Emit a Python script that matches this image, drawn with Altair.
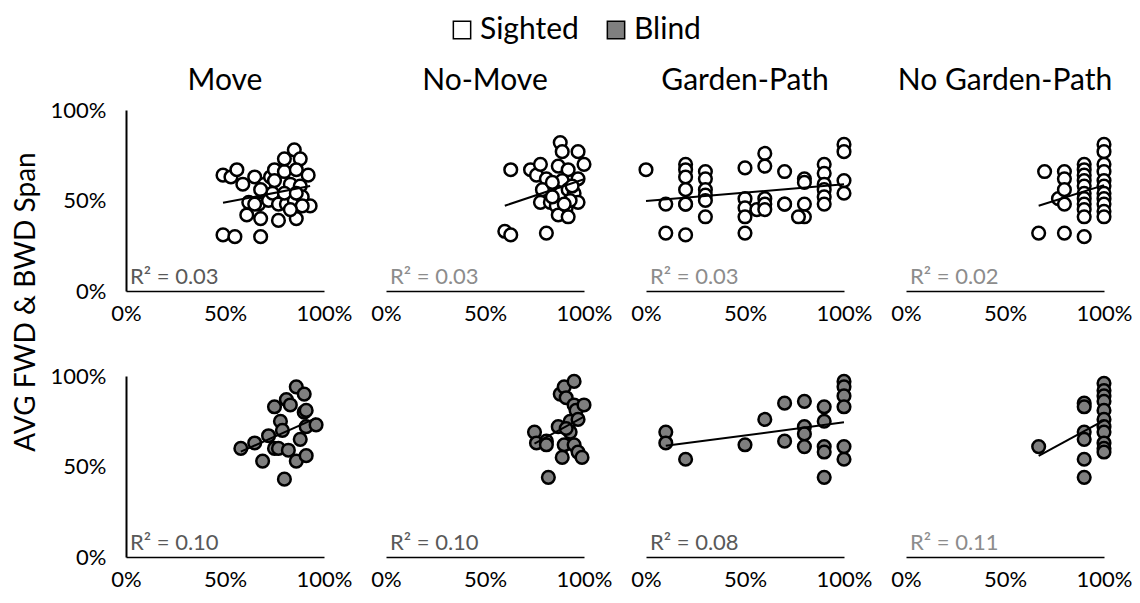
import altair as alt
import pandas as pd

conditions = ["Move", "No-Move", "Garden-Path", "No Garden-Path"]
groups = ["Sighted", "Blind"]

# Sighted (top row)
sighted_move_x = [49, 53, 56, 59, 65, 70, 73, 75, 80, 80, 85, 88, 86, 92, 83, 88, 75, 62, 67, 72, 74, 77, 81, 85, 89, 93, 61, 68, 77, 86, 89, 49, 55, 68, 65, 80, 86, 68, 83]
sighted_move_y = [64, 63, 67, 59, 63, 59, 63, 67, 66, 73, 78, 73, 67, 64, 59, 58, 61, 49, 48, 50, 54, 48, 48, 50, 52, 47, 42, 40, 39, 40, 47, 31, 30, 30, 48, 54, 54, 56, 45]

sighted_nomove_x = [63, 73, 76, 78, 81, 88, 89, 97, 100, 87, 92, 97, 89, 79, 78, 83, 88, 92, 95, 97, 86, 91, 87, 92, 93, 60, 63, 81, 84, 94, 90, 84]
sighted_nomove_y = [67, 67, 64, 70, 62, 82, 77, 77, 70, 69, 67, 62, 61, 56, 49, 49, 54, 56, 54, 49, 47, 46, 42, 41, 50, 33, 31, 32, 52, 58, 48, 60]

sighted_gp_x = [0, 10, 10, 20, 20, 20, 20, 20, 20, 20, 30, 30, 30, 30, 30, 30, 50, 50, 50, 50, 50, 56, 60, 60, 60, 60, 60, 70, 70, 70, 80, 80, 80, 80, 77, 90, 90, 90, 90, 90, 90, 100, 100, 100, 100]
sighted_gp_y = [67, 48, 32, 70, 67, 63, 56, 48, 48, 31, 66, 62, 56, 53, 50, 41, 68, 51, 46, 41, 32, 45, 76, 69, 51, 48, 45, 66, 48, 48, 62, 60, 48, 41, 41, 70, 65, 59, 56, 52, 48, 81, 77, 61, 54]

sighted_ngp_x = [67, 70, 77, 80, 80, 80, 80, 80, 90, 90, 90, 90, 90, 90, 90, 90, 90, 90, 90, 100, 100, 100, 100, 100, 100, 100, 100, 100, 100, 100]
sighted_ngp_y = [32, 66, 51, 66, 62, 56, 48, 32, 70, 67, 64, 61, 58, 54, 51, 48, 45, 41, 30, 81, 77, 70, 66, 61, 58, 54, 51, 48, 44, 41]

# Blind (bottom row)
blind_move_x = [58, 65, 72, 69, 75, 75, 77, 78, 79, 80, 81, 83, 82, 86, 90, 88, 86, 91, 90, 91, 91, 96]
blind_move_y = [60, 63, 67, 53, 83, 60, 60, 75, 70, 43, 87, 84, 59, 94, 90, 65, 53, 56, 80, 81, 72, 73]

blind_nomove_x = [75, 76, 81, 81, 82, 87, 88, 90, 91, 95, 95, 96, 100, 93, 97, 93, 90, 89, 95, 97, 99, 91]
blind_nomove_y = [69, 63, 64, 62, 44, 72, 90, 94, 88, 97, 84, 81, 84, 75, 76, 69, 62, 55, 62, 58, 55, 71]

blind_gp_x = [10, 10, 20, 50, 60, 70, 70, 80, 80, 80, 80, 90, 90, 90, 90, 90, 100, 100, 100, 100, 100, 100]
blind_gp_y = [69, 63, 54, 62, 76, 85, 64, 86, 72, 68, 61, 83, 75, 61, 58, 44, 97, 94, 89, 83, 61, 54]

blind_ngp_x = [67, 90, 90, 90, 90, 90, 90, 100, 100, 100, 100, 100, 100, 100, 100, 100, 100, 100]
blind_ngp_y = [61, 85, 83, 69, 65, 54, 44, 96, 92, 89, 86, 81, 76, 72, 69, 63, 60, 58]

r2_sighted = ["R² = 0.03", "R² = 0.03", "R² = 0.03", "R² = 0.02"]
r2_blind = ["R² = 0.10", "R² = 0.10", "R² = 0.08", "R² = 0.11"]
r2_sighted_color = ["#595959", "#8c8c8c", "#8c8c8c", "#8c8c8c"]
r2_blind_color = ["#595959", "#595959", "#595959", "#8c8c8c"]

y_title = ["AVG FWD & BWD Span"]

panels = {
    ("Sighted", "Move"): (sighted_move_x, sighted_move_y),
    ("Sighted", "No-Move"): (sighted_nomove_x, sighted_nomove_y),
    ("Sighted", "Garden-Path"): (sighted_gp_x, sighted_gp_y),
    ("Sighted", "No Garden-Path"): (sighted_ngp_x, sighted_ngp_y),
    ("Blind", "Move"): (blind_move_x, blind_move_y),
    ("Blind", "No-Move"): (blind_nomove_x, blind_nomove_y),
    ("Blind", "Garden-Path"): (blind_gp_x, blind_gp_y),
    ("Blind", "No Garden-Path"): (blind_ngp_x, blind_ngp_y),
}

rows = []
for (g, c), (xs, ys) in panels.items():
    i = conditions.index(c)
    lab = r2_sighted[i] if g == "Sighted" else r2_blind[i]
    col = r2_sighted_color[i] if g == "Sighted" else r2_blind_color[i]
    for xv, yv in zip(xs, ys):
        rows.append({"grp": g, "cond": c, "x": xv, "y": yv, "r2": lab, "r2col": col})
df = pd.DataFrame(rows)

FONT = "Lato"

x_enc = alt.X(
    "x:Q",
    scale=alt.Scale(domain=[0, 100], nice=False),
    axis=alt.Axis(values=[0, 50, 100], labelExpr="datum.value + '%'", title=None,
                  grid=False, ticks=False, domainColor="black", domainWidth=1.5,
                  labelFlush=False, labelFontSize=22, labelPadding=12, labelColor="black"),
)
y_enc = alt.Y(
    "y:Q",
    scale=alt.Scale(domain=[0, 100], nice=False),
    axis=alt.Axis(values=[0, 50, 100], labelExpr="datum.value + '%'", title=None,
                  grid=False, ticks=False, domainColor="black", domainWidth=2,
                  labelFontSize=22, labelPadding=20, labelColor="black"),
)

base = alt.Chart()

pts = base.mark_circle(size=160, stroke="black", strokeWidth=2.5, opacity=1).encode(
    x=x_enc,
    y=y_enc,
    fill=alt.Fill(
        "grp:N",
        scale=alt.Scale(domain=groups, range=["white", "#7f7f7f"]),
        legend=alt.Legend(title=None, orient="none", direction="horizontal",
                          legendX=436, legendY=-95, symbolType="square", symbolSize=300,
                          symbolStrokeColor="black", symbolStrokeWidth=1.5,
                          labelFontSize=30, labelFont=FONT, labelColor="black",
                          columnPadding=22, labelOffset=3),
    ),
)

line = base.transform_regression("x", "y", groupby=["grp", "cond"]).mark_line(
    color="black", strokeWidth=2
).encode(x="x:Q", y="y:Q")

txt = base.transform_aggregate(n="count()", groupby=["grp", "cond", "r2", "r2col"]).mark_text(
    align="left", baseline="alphabetic", fontSize=22, font=FONT
).encode(
    x=alt.value(4),
    y=alt.value(174),
    text="r2:N",
    color=alt.Color("r2col:N", scale=None),
)

layered = alt.layer(pts, line, txt, data=df).properties(width=198, height=181)

grid = layered.facet(
    row=alt.Row("grp:N", sort=groups, header=alt.Header(labels=False, title=None)),
    column=alt.Column("cond:N", sort=conditions,
                      header=alt.Header(title=None, labelFontSize=30, labelFont=FONT,
                                        labelColor="black", labelPadding=14)),
    spacing={"row": 85, "column": 62},
    bounds="flush",
).resolve_axis(x="independent")

title_chart = alt.Chart(pd.DataFrame({"t": y_title})).mark_text(
    angle=270, fontSize=28, font=FONT, color="black", align="center", baseline="middle"
).encode(
    text="t:N",
    x=alt.value(16),
    y=alt.value(192),
).properties(width=28, height=470)

chart = alt.hconcat(title_chart, grid, spacing=8).properties(
    padding={"left": 3, "top": 7, "right": 0, "bottom": 0}
).configure(
    font=FONT, view=alt.ViewConfig(stroke=None)
)

chart.save("out.html", embed_options={"renderer": "svg", "actions": False})
